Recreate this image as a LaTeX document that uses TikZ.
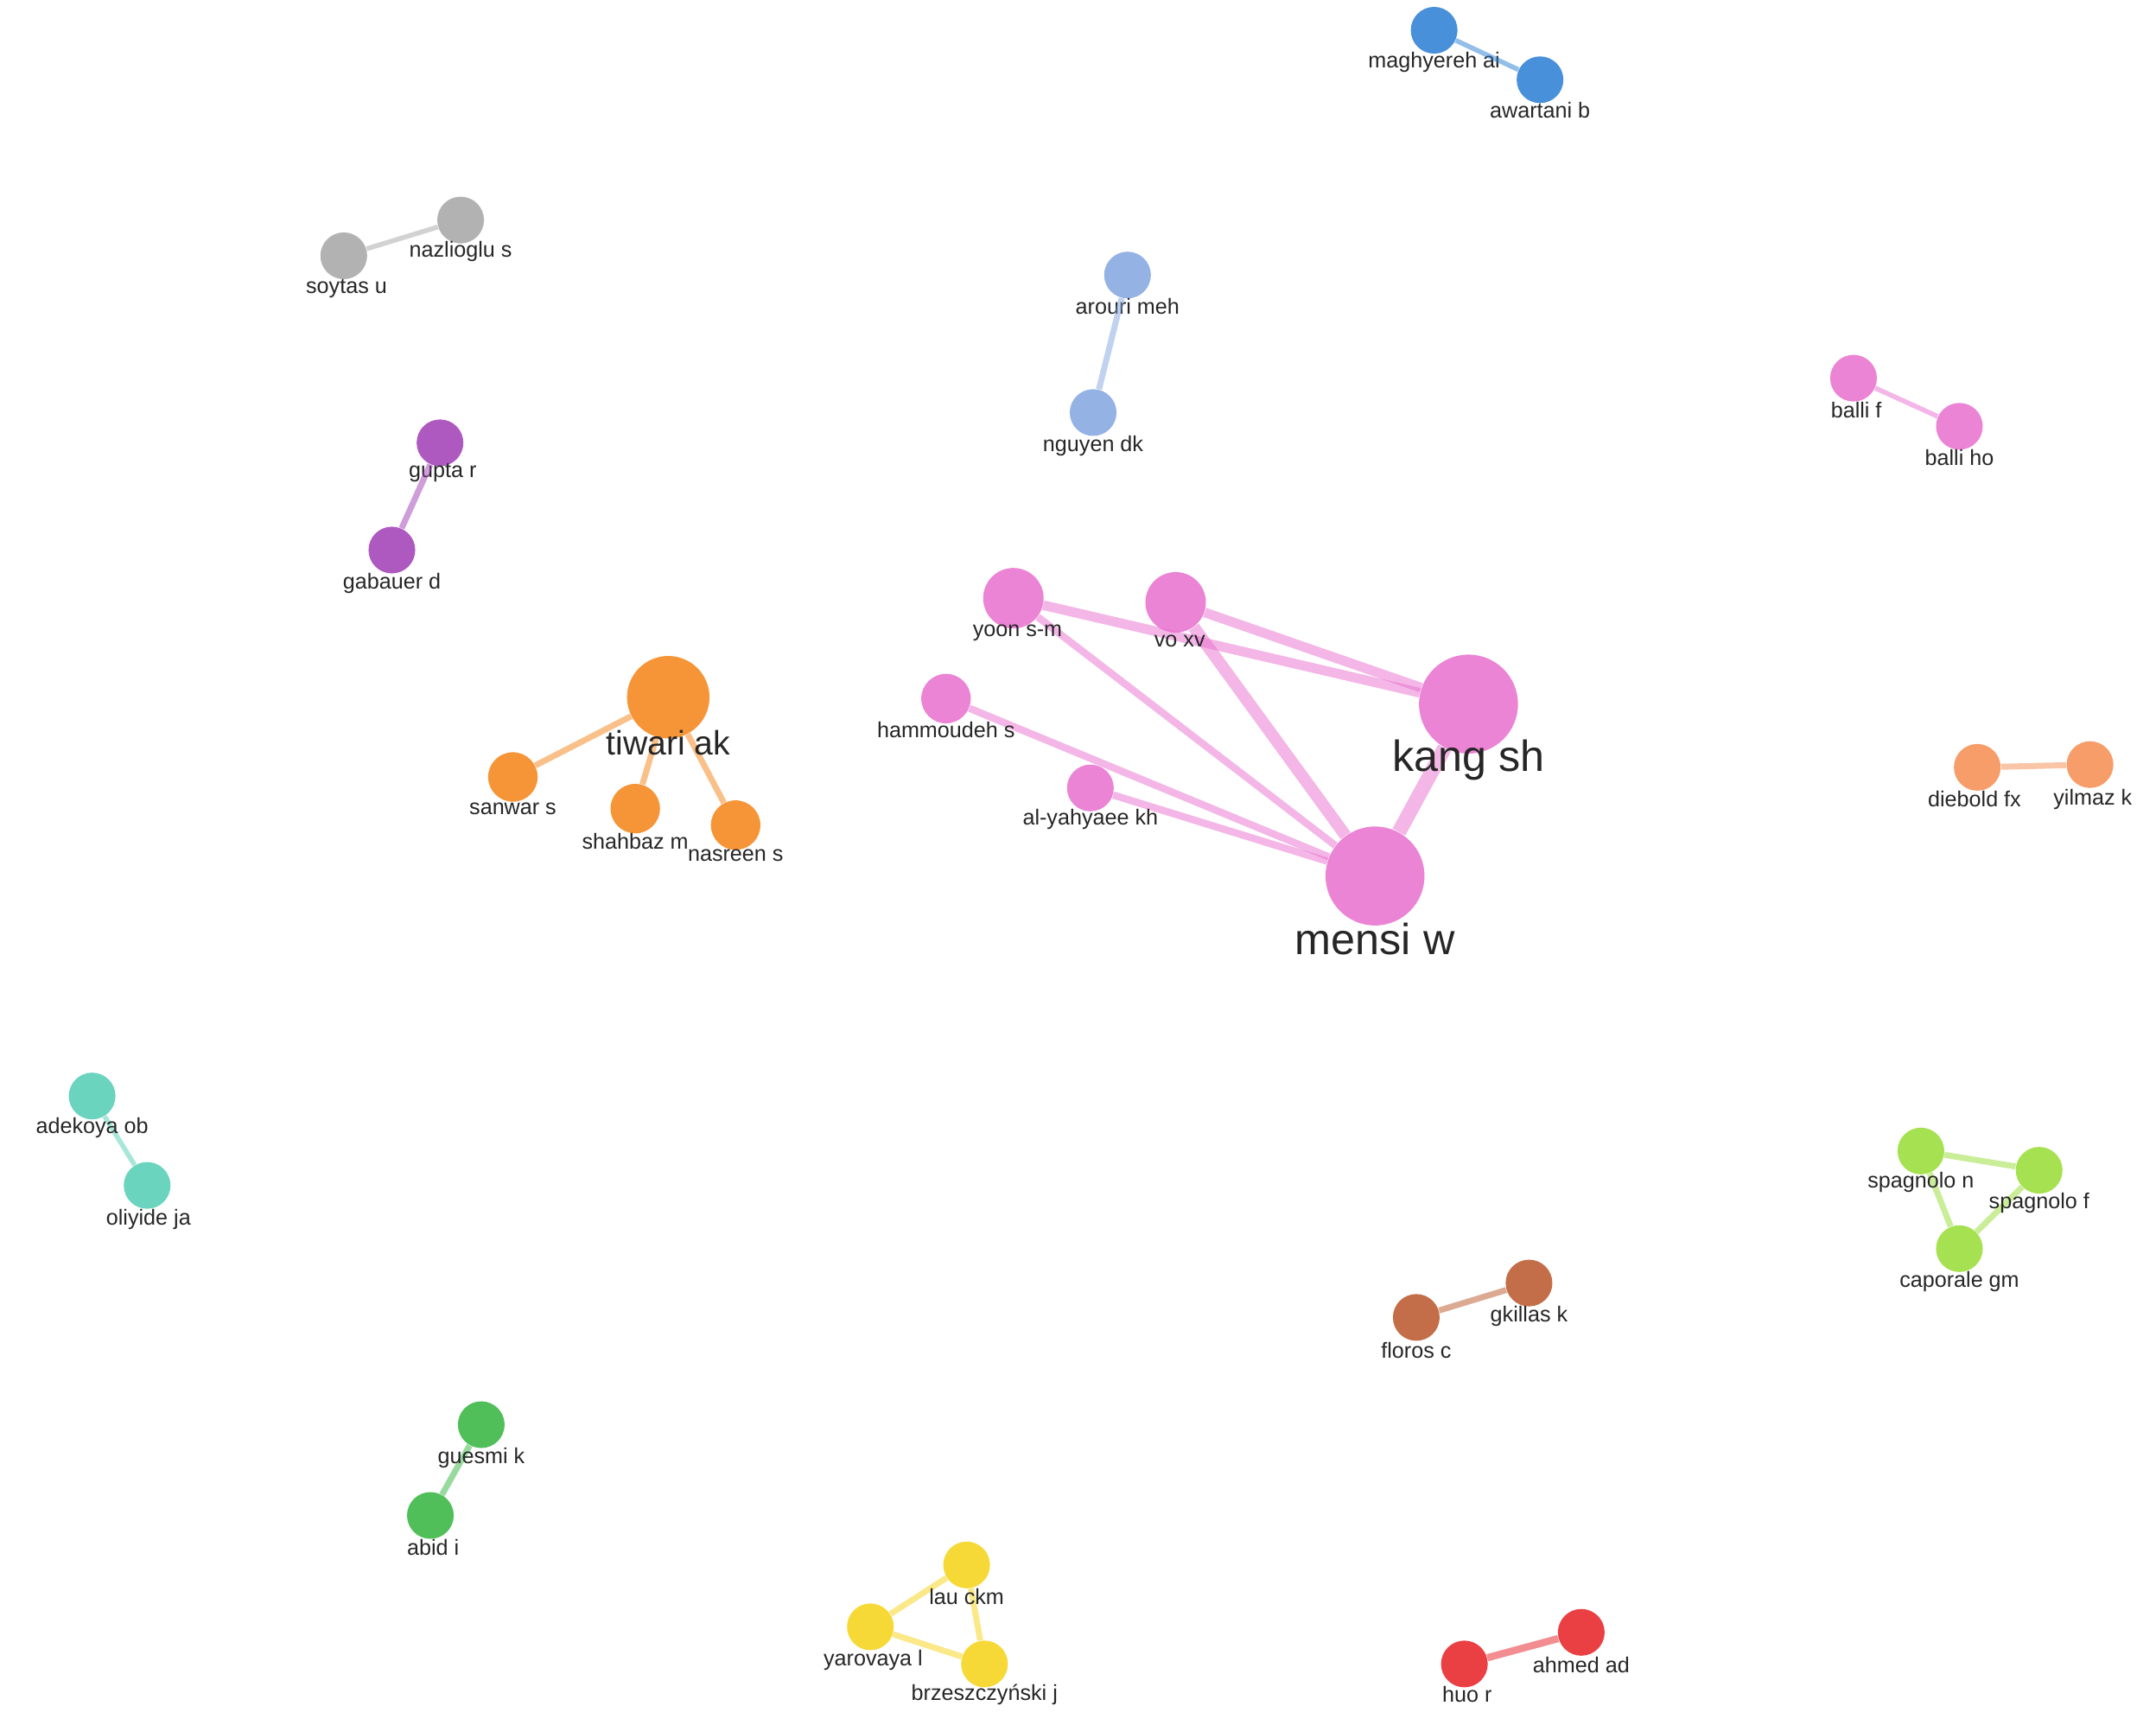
\documentclass[tikz,border=0pt]{standalone}
\usepackage{fontspec}
\setmainfont{Liberation Sans}
\begin{document}
\begin{tikzpicture}[x=0.02cm,y=-0.02cm,
 n/.style={circle,inner sep=0pt,minimum size=#1*0.04cm,fill opacity=0.85,draw=none},
 lb/.style={font=\fontsize{9}{10}\selectfont,text=black!85,inner sep=0pt},
 big/.style={font=\fontsize{18}{20}\selectfont,text=black!85,inner sep=0pt},
 e/.style={line width=#1,opacity=0.5}]
\useasboundingbox (0,0) rectangle (1568,1254);
\definecolor{pk}{RGB}{232,110,205}
\definecolor{org}{RGB}{245,130,20}
\definecolor{blu}{RGB}{40,125,210}
\definecolor{lbl}{RGB}{130,165,225}
\definecolor{gry}{RGB}{165,165,165}
\definecolor{pur}{RGB}{160,60,180}
\definecolor{org2}{RGB}{245,140,80}
\definecolor{tea}{RGB}{80,205,180}
\definecolor{lgr}{RGB}{150,220,50}
\definecolor{brn}{RGB}{185,85,40}
\definecolor{grn}{RGB}{50,180,60}
\definecolor{yel}{RGB}{245,210,20}
\definecolor{red}{RGB}{230,30,35}
% nodes
\node[n=17,fill=blu] (mag) at (1043,22) {}; \node[lb] (magl) at (1043,45) {maghyereh ai};
\node[n=17,fill=blu] (awa) at (1120,58) {}; \node[lb] (awal) at (1120,80) {awartani b};
\node[n=17,fill=gry] (naz) at (335,160) {}; \node[lb] (nazl) at (335,183) {nazlioglu s};
\node[n=17,fill=gry] (soy) at (250,186) {}; \node[lb] (soyl) at (252,210) {soytas u};
\node[n=17,fill=lbl] (aro) at (820,200) {}; \node[lb] (arol) at (820,223) {arouri meh};
\node[n=17,fill=lbl] (ngu) at (795,300) {}; \node[lb] (ngul) at (795,324) {nguyen dk};
\node[n=17,fill=pk] (bf) at (1348,275) {}; \node[lb] (bfl) at (1350,298) {balli f};
\node[n=17,fill=pk] (bh) at (1425,310) {}; \node[lb] (bhl) at (1425,333) {balli ho};
\node[n=17,fill=pur] (gup) at (320,322) {}; \node[lb] (gupl) at (322,344) {gupta r};
\node[n=17,fill=pur] (gab) at (285,400) {}; \node[lb] (gabl) at (285,424) {gabauer d};
\node[n=22,fill=pk] (yoon) at (737,435) {};
\node[n=22,fill=pk] (vo) at (855,438) {};
\node[n=36,fill=pk] (kang) at (1068,512) {};
\node[n=36,fill=pk] (mensi) at (1000,637) {};
\node[n=18,fill=pk] (ham) at (688,508) {};
\node[n=17,fill=pk] (aly) at (793,573) {};
\node[n=30,fill=org] (tiw) at (486,507) {};
\node[n=18,fill=org] (san) at (373,565) {};
\node[n=18,fill=org] (sha) at (462,588) {};
\node[n=18,fill=org] (nas) at (535,600) {};
\node[n=17,fill=org2] (die) at (1438,558) {};
\node[n=17,fill=org2] (yil) at (1520,556) {};
\node[n=17,fill=tea] (ade) at (67,797) {};
\node[n=17,fill=tea] (oli) at (107,862) {};
\node[n=17,fill=lgr] (spn) at (1397,837) {};
\node[n=17,fill=lgr] (spf) at (1483,851) {};
\node[n=17,fill=lgr] (cap) at (1425,908) {};
\node[n=17,fill=brn] (gki) at (1112,933) {};
\node[n=17,fill=brn] (flo) at (1030,958) {};
\node[n=17,fill=grn] (gue) at (350,1036) {};
\node[n=17,fill=grn] (abi) at (313,1102) {};
\node[n=17,fill=yel] (lau) at (703,1138) {};
\node[n=17,fill=yel] (yar) at (633,1183) {};
\node[n=17,fill=yel] (brz) at (716,1210) {};
\node[n=17,fill=red] (ahm) at (1150,1187) {};
\node[n=17,fill=red] (huo) at (1065,1210) {};
% edges
\begin{scope}[on background layer/.style={}]
\draw[e=2pt,blu] (mag)--(awa);
\draw[e=2pt,gry] (naz)--(soy);
\draw[e=2.5pt,lbl] (aro)--(ngu);
\draw[e=2pt,pk] (bf)--(bh);
\draw[e=2.5pt,pur] (gup)--(gab);
\draw[e=4pt,pk] (yoon)--(kang);
\draw[e=4pt,pk] (vo)--(kang);
\draw[e=3pt,pk] (yoon)--(mensi);
\draw[e=5pt,pk] (vo)--(mensi);
\draw[e=6pt,pk] (kang)--(mensi);
\draw[e=3pt,pk] (ham)--(mensi);
\draw[e=3pt,pk] (aly)--(mensi);
\draw[e=2.5pt,org] (tiw)--(san);
\draw[e=2.5pt,org] (tiw)--(sha);
\draw[e=2.5pt,org] (tiw)--(nas);
\draw[e=2.5pt,org2] (die)--(yil);
\draw[e=2pt,tea] (ade)--(oli);
\draw[e=2.5pt,lgr] (spn)--(spf)--(cap)--(spn);
\draw[e=2.5pt,brn] (gki)--(flo);
\draw[e=2.5pt,grn] (gue)--(abi);
\draw[e=2.5pt,yel] (lau)--(yar)--(brz)--(lau);
\draw[e=3pt,red] (ahm)--(huo);
\end{scope}
% labels
\node[lb] (yoonl) at (740,460) {yoon s-m};
\node[lb] (vol) at (858,466) {vo xv};
\node[big] (kangl) at (1068,553) {kang sh};
\node[big] (mensil) at (1000,683) {mensi w};
\node[lb] (haml) at (688,531) {hammoudeh s};
\node[lb] (alyl) at (793,596) {al-yahyaee kh};
\node[font=\fontsize{14}{16}\selectfont,text=black!85,inner sep=0pt] (tiwl) at (486,540) {tiwari ak};
\node[lb] (sanl) at (373,588) {sanwar s};
\node[lb] (shal) at (462,612) {shahbaz m};
\node[lb] (nasl) at (535,622) {nasreen s};
\node[lb] (diel) at (1436,581) {diebold fx};
\node[lb] (yill) at (1522,581) {yilmaz k};
\node[lb] (adel) at (67,820) {adekoya ob};
\node[lb] (olil) at (108,887) {oliyide ja};
\node[lb] (spnl) at (1397,860) {spagnolo n};
\node[lb] (spfl) at (1483,875) {spagnolo f};
\node[lb] (capl) at (1425,932) {caporale gm};
\node[lb] (gkil) at (1112,957) {gkillas k};
\node[lb] (flol) at (1030,982) {floros c};
\node[lb] (guel) at (350,1060) {guesmi k};
\node[lb] (abil) at (315,1125) {abid i};
\node[lb] (laul) at (703,1161) {lau ckm};
\node[lb] (yarl) at (635,1207) {yarovaya l};
\node[lb] (brzl) at (716,1232) {brzeszczyński j};
\node[lb] (ahml) at (1150,1211) {ahmed ad};
\node[lb] (huol) at (1067,1232) {huo r};
\end{tikzpicture}
\end{document}
